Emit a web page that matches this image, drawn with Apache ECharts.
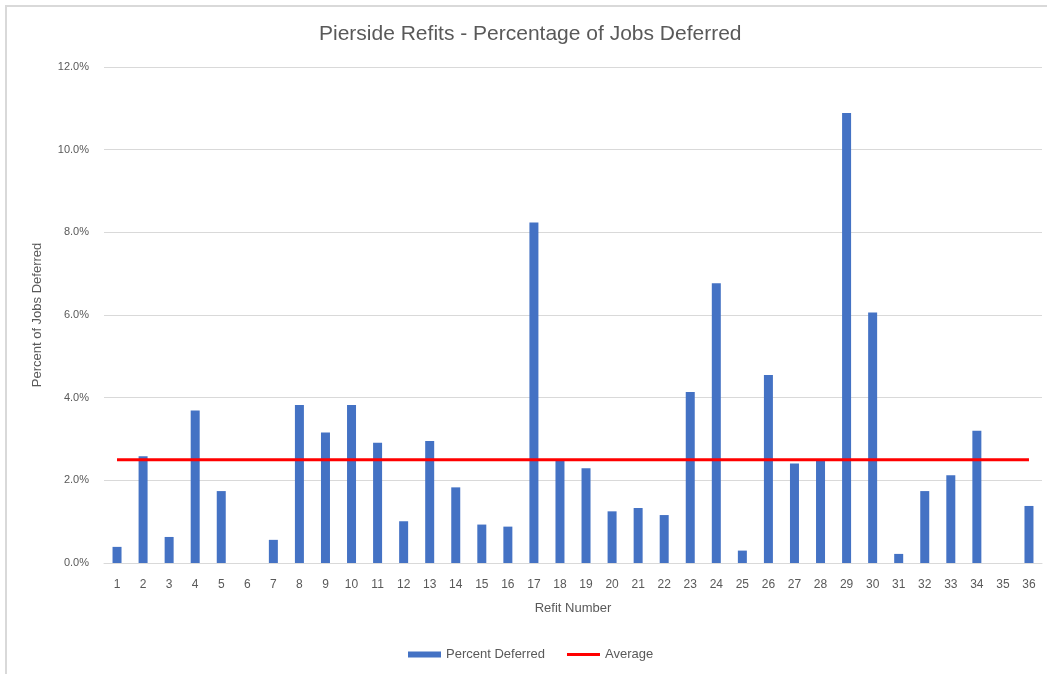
<!DOCTYPE html>
<html>
<head>
<meta charset="utf-8">
<script src="https://cdn.jsdelivr.net/npm/echarts@6/dist/echarts.min.js"></script>
<style>
html,body{margin:0;padding:0;background:#fff;}
#frame{position:absolute;left:5px;top:5px;width:1042px;height:669px;border-left:2px solid #d9d9d9;border-top:2px solid #d9d9d9;box-sizing:border-box;}
#chart{position:absolute;left:0;top:0;width:1047px;height:674px;}
</style>
</head>
<body>
<div id="frame"></div>
<div id="chart"></div>
<script>
var categories = ['1','2','3','4','5','6','7','8','9','10','11','12','13','14','15','16','17','18','19','20','21','22','23','24','25','26','27','28','29','30','31','32','33','34','35','36'];
var percentDeferred = [0.39,2.58,0.63,3.69,1.74,0,0.56,3.82,3.16,3.82,2.91,1.01,2.95,1.83,0.93,0.88,8.24,2.49,2.29,1.25,1.33,1.16,4.14,6.77,0.30,4.55,2.41,2.49,10.89,6.06,0.22,1.74,2.12,3.20,0,1.38];
var averageValue = 2.5;
var average = categories.map(function(){ return averageValue; });
var yTicks = [0,2,4,6,8,10,12];

var font = 'Liberation Sans';
var chart = echarts.init(document.getElementById('chart'));
chart.setOption({
  animation:false,
  textStyle:{fontFamily:font},
  title:{text:'Pierside Refits - Percentage of Jobs Deferred',left:314,top:19,
    textStyle:{fontFamily:font,fontSize:21,fontWeight:'normal',color:'#595959'}},
  grid:{left:104,right:5,top:67,bottom:111},
  legend:{bottom:8,left:403,itemGap:22,
    textStyle:{fontFamily:font,fontSize:13,color:'#595959'},
    data:[{name:'Percent Deferred',icon:'rect',itemStyle:{color:'#4472C4'}},
          {name:'Average',icon:'path://M0,0 L35,0 L35,3 L0,3 Z',itemStyle:{color:'#FF0000'}}],
    itemWidth:33,itemHeight:6},
  xAxis:{type:'category',data:categories,
    name:'Refit Number',nameLocation:'middle',nameGap:39,
    nameTextStyle:{fontFamily:font,fontSize:13,color:'#595959'},
    axisLine:{lineStyle:{color:'#d9d9d9',width:1}},
    axisTick:{show:false},
    axisLabel:{color:'#595959',fontSize:12,margin:16,interval:0}},
  yAxis:{type:'value',min:0,max:12,interval:2,
    name:'Percent of Jobs Deferred',nameLocation:'middle',nameGap:60,nameRotate:90,
    nameTextStyle:{fontFamily:font,fontSize:13,color:'#595959'},
    axisLine:{show:false},axisTick:{show:false},
    splitLine:{lineStyle:{color:'#d9d9d9',width:1}},
    axisLabel:{color:'#595959',fontSize:11,margin:15,formatter:function(v){return v.toFixed(1)+'%';}}},
  series:[
    {name:'Percent Deferred',type:'bar',data:percentDeferred,barWidth:9,
      itemStyle:{color:'#4472C4'}},
    {name:'Average',type:'line',data:average,symbol:'none',
      lineStyle:{color:'#FF0000',width:3},itemStyle:{color:'#FF0000'}}
  ]
});
</script>
</body>
</html>
